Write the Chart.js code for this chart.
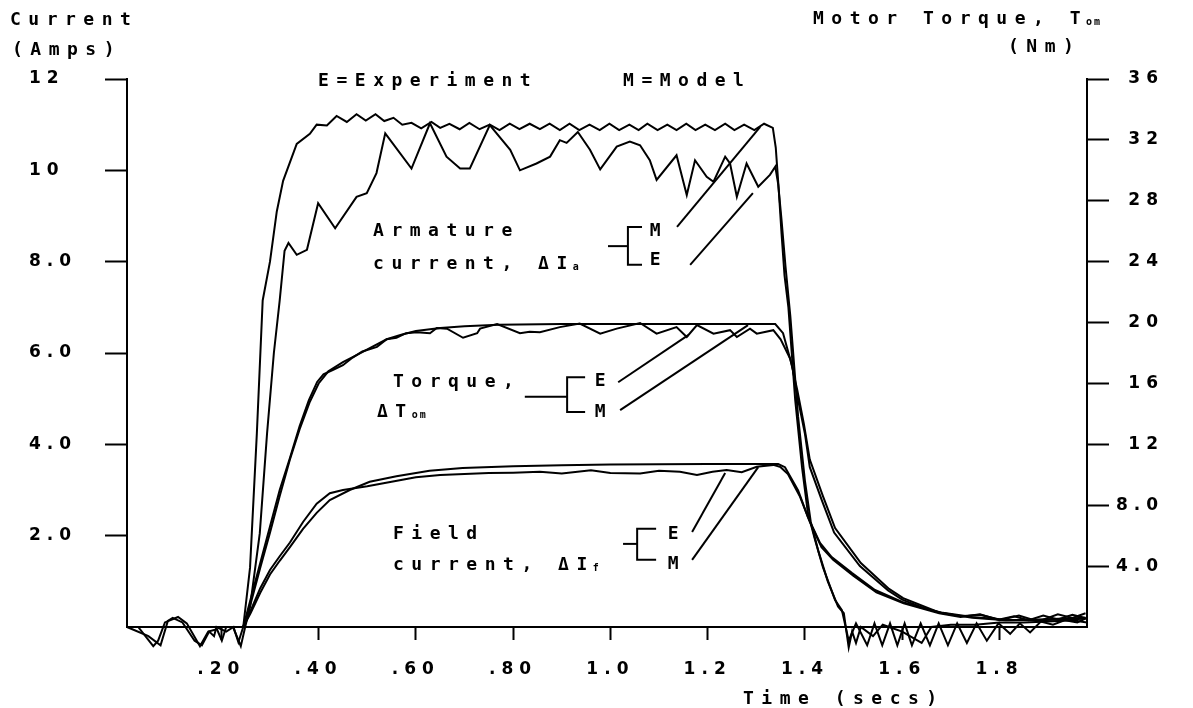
<!DOCTYPE html>
<html><head><meta charset="utf-8">
<script src="https://cdn.jsdelivr.net/npm/chart.js@4.4.1/dist/chart.umd.min.js"></script>
<style>html,body{margin:0;padding:0;background:#fff;}canvas{display:block;}</style>
</head><body>
<canvas id="c" width="1193" height="708"></canvas>
<script>
// ---------------- data (time in s, current in A, torque in Nm) ----------------
const armModelT = [0.006,0.245,0.259,0.273,0.285,0.300,0.314,0.327,0.355,0.382,0.396,0.417,
 0.437,0.458,0.478,0.497,0.517,0.535,0.554,0.572,0.591,0.611,0.632,0.650,0.669,0.690,0.710,0.731,0.752,0.772,0.793,0.813,
 0.834,0.855,0.875,0.896,0.916,0.936,0.957,0.978,0.998,1.018,1.039,1.058,1.076,1.097,1.117,1.136,1.156,1.175,1.195,1.215,
 1.236,1.255,1.275,1.296,1.316,1.334,
 1.340,1.346,1.352,1.358,1.366,1.380,1.394,1.406,1.421,1.437,1.462,1.476,
 1.490,1.505,1.528,1.543,1.559,1.575,1.590,1.605,1.620,1.638,1.657,1.675,1.694,1.713,1.733,1.753,1.774,1.798,1.822,1.842,
 1.863,1.885,1.910,1.935,1.960,1.980];
const armModelA = [0,0,1.3,4.24,7.15,8.0,9.1,9.77,10.58,10.8,11.0,10.98,
 11.19,11.06,11.23,11.09,11.23,11.08,11.15,11.0,11.04,10.92,11.06,10.93,11.02,10.9,11.04,10.9,11.0,10.88,11.02,10.9,
 11.02,10.9,11.02,10.88,11.02,10.88,11.0,10.88,11.02,10.88,11.0,10.88,11.02,10.88,11.0,10.88,11.02,10.88,11.0,10.88,
 11.02,10.88,11.0,10.88,11.02,10.93,
 10.5,9.6,8.6,7.7,7.0,4.97,3.5,2.5,1.9,1.31,0.59,0.37,
 -0.3,0.08,-0.4,0.08,-0.4,0.08,-0.4,0.08,-0.4,0.08,-0.4,0.08,-0.4,0.08,-0.35,0.08,-0.3,0.08,-0.15,0.08,
 -0.12,0.12,0.05,0.15,0.1,0.2];

const armExpT = [0.006,0.029,0.060,0.070,0.084,0.111,0.129,0.156,0.173,0.191,0.201,0.210,0.224,0.240,0.249,
 0.259,0.279,0.294,0.308,0.320,0.330,0.338,0.355,0.376,0.399,0.434,0.478,0.499,0.519,0.537,0.591,0.629,0.663,0.691,0.711,
 0.752,0.794,0.814,0.848,0.876,0.896,0.910,0.933,0.958,0.979,1.013,1.040,1.061,1.081,1.095,1.136,1.157,1.174,1.198,1.212,
 1.236,1.246,1.260,1.280,1.304,1.328,1.339,1.345,1.352,1.360,1.370,1.386,1.400,1.412,1.428,1.447,1.468,1.480,
 1.490,1.497,1.505,1.515,1.540,1.560,1.600,1.640,1.660,1.700,1.750,1.800,1.850,1.900,1.950,1.980];
const armExpA = [0,0,-0.42,-0.3,0.1,0.22,0.08,-0.42,-0.1,-0.05,-0.3,0.0,0.0,-0.42,0.0,
 0.44,2.05,4.24,6.0,7.15,8.24,8.41,8.15,8.26,9.28,8.73,9.42,9.5,9.94,10.81,10.04,11.03,10.3,10.04,10.04,
 10.99,10.45,10.0,10.15,10.3,10.66,10.6,10.84,10.45,10.02,10.52,10.63,10.55,10.22,9.79,10.33,9.46,10.22,9.86,9.75,
 10.3,10.15,9.42,10.15,9.64,9.9,10.08,9.7,8.9,7.9,6.8,4.6,3.2,2.3,1.65,1.0,0.45,0.3,
 -0.45,-0.1,-0.35,0.0,-0.2,0.05,-0.1,-0.35,0.0,0.05,0.05,0.1,0.1,0.12,0.15,0.1];

const torqueModelT = [0.006,0.245,0.260,0.280,0.300,0.320,0.341,0.361,0.382,0.400,0.420,0.450,0.480,0.510,0.540,
 0.570,0.600,0.650,0.700,0.770,0.900,1.100,1.339,1.355,1.374,1.386,1.400,1.410,1.435,1.460,
 1.513,1.571,1.600,1.640,1.676,1.744,1.813,1.880,1.977];
const torqueModelNm = [0,0,1.5,3.9,6.2,8.6,11.0,13.0,14.8,16.0,16.8,17.4,17.9,18.4,18.9,
 19.2,19.45,19.65,19.75,19.85,19.9,19.9,19.9,19.3,17.1,14.9,12.7,10.5,8.3,6.2,
 4.0,2.4,1.8,1.3,0.95,0.6,0.45,0.5,0.6];

const torqueExpT = [0.006,0.050,0.075,0.090,0.100,0.120,0.145,0.160,0.175,0.185,0.190,0.210,0.225,0.235,0.245,
 0.260,0.280,0.300,0.320,0.341,0.361,0.380,0.397,0.410,0.430,0.450,0.470,0.490,0.520,0.540,
 0.560,0.580,0.602,0.629,0.643,0.664,0.697,0.726,0.732,0.767,0.814,0.834,0.855,0.896,0.937,
 0.979,1.013,1.061,1.095,1.136,1.157,1.178,1.212,1.246,1.260,1.287,1.301,1.335,1.350,1.370,
 1.384,1.398,1.410,1.437,1.462,1.515,1.573,1.602,1.676,1.720,1.760,1.800,1.830,1.860,1.890,1.920,1.950,1.977];
const torqueExpNm = [0,-0.6,-1.2,0.4,0.6,0.3,-0.9,-1.2,-0.3,-0.6,0.0,-0.3,0.0,-1.0,0.0,
 1.8,4.2,6.6,9.0,11.1,13.2,14.9,16.1,16.6,16.9,17.2,17.7,18.1,18.4,18.9,
 19.0,19.3,19.37,19.3,19.64,19.6,19.0,19.3,19.6,19.9,19.3,19.4,19.37,19.7,19.93,
 19.27,19.6,19.97,19.27,19.7,19.05,19.84,19.27,19.5,19.05,19.6,19.27,19.5,18.9,17.6,
 15.6,13.3,11.0,8.6,6.5,4.2,2.5,1.9,0.95,0.7,0.8,0.5,0.7,0.45,0.75,0.5,0.8,0.6];

const fieldModelT = [0.006,0.245,0.260,0.280,0.300,0.320,0.341,0.368,0.396,0.423,0.464,0.505,0.560,0.628,0.696,
 0.800,0.900,1.000,1.200,1.345,1.359,1.386,1.406,1.431,1.455,1.497,1.544,1.600,1.640,1.680,1.744,1.813,1.880,1.977];
const fieldModelA = [0,0,0.3,0.75,1.15,1.45,1.75,2.15,2.5,2.78,3.0,3.18,3.3,3.42,3.48,
 3.52,3.54,3.56,3.57,3.57,3.5,2.99,2.41,1.84,1.53,1.18,0.81,0.55,0.42,0.32,0.22,0.16,0.15,0.18];

const fieldExpT = [0.006,0.245,0.260,0.280,0.300,0.320,0.341,0.368,0.396,0.423,0.450,0.500,0.550,0.600,0.650,
 0.700,0.750,0.800,0.855,0.900,0.960,1.000,1.061,1.100,1.143,1.178,1.210,1.239,1.270,1.301,
 1.335,1.350,1.365,1.390,1.410,1.434,1.458,1.500,1.547,1.603,1.676,1.720,1.760,1.800,1.840,1.880,1.920,1.950,1.977];
const fieldExpA = [0,0,0.35,0.85,1.25,1.55,1.85,2.3,2.7,2.93,3.0,3.08,3.18,3.28,3.33,
 3.35,3.37,3.38,3.40,3.36,3.43,3.37,3.36,3.42,3.40,3.33,3.40,3.44,3.39,3.51,
 3.55,3.5,3.35,2.85,2.3,1.75,1.47,1.12,0.76,0.52,0.3,0.22,0.28,0.15,0.25,0.12,0.28,0.2,0.3];

const xTickValues = [0.2,0.4,0.6,0.8,1.0,1.2,1.4,1.6,1.8];
const xTickLabels = ['.20','.40','.60','.80','1.0','1.2','1.4','1.6','1.8'];
const yTickValues = [2,4,6,8,10,12];
const yTickLabels = ['2.0','4.0','6.0','8.0','10','12'];
const y2TickValues = [4,8,12,16,20,24,28,32,36];
const y2TickLabels = ['4.0','8.0','12','16','20','24','28','32','36'];

// ---------------- styles ----------------
const FAMILY = '"DejaVu Sans Mono", "Liberation Mono", monospace';
const TICK_FAMILY = '"DejaVu Sans", "Liberation Sans", sans-serif';
const MAIN_FONT = 'bold 18px ' + FAMILY;
const SUB_FONT = 'bold 10px ' + FAMILY;
const SPACING = '7.5px';
const TICK_SPACING = '6px';
const INK = '#000';

const pts = (t, v) => t.map((x, i) => ({x: x, y: v[i]}));
const line = (t, v, axis) => ({data: pts(t, v), yAxisID: axis, borderColor: INK, borderWidth: 2,
  pointRadius: 0, tension: 0, fill: false, clip: false});

// annotation layout (data coordinates: t in s, a in A on the left axis)
const noteTexts = [
  {text: 'E=Experiment', t: 0.399, a: 12.0},
  {text: 'M=Model', t: 1.026, a: 12.0},
  {text: 'Armature', t: 0.512, a: 8.71},
  {text: 'current, \u0394I', sub: 'a', t: 0.512, a: 7.99},
  {text: 'M', t: 1.081, a: 8.71},
  {text: 'E', t: 1.081, a: 8.06},
  {text: 'Torque,', t: 0.553, a: 5.39},
  {text: '\u0394T', sub: 'om', t: 0.520, a: 4.75},
  {text: 'E', t: 0.968, a: 5.41},
  {text: 'M', t: 0.968, a: 4.75},
  {text: 'Field', t: 0.553, a: 2.08},
  {text: 'current, \u0394I', sub: 'f', t: 0.553, a: 1.40},
  {text: 'E', t: 1.118, a: 2.08},
  {text: 'M', t: 1.118, a: 1.42}
];
const notePaths = [
  [[0.995,8.34],[1.036,8.34]],
  [[1.065,8.76],[1.036,8.76],[1.036,7.93],[1.065,7.93]],
  [[1.137,8.76],[1.308,10.95]],
  [[1.164,7.93],[1.293,9.50]],
  [[0.824,5.04],[0.911,5.04]],
  [[0.948,5.47],[0.911,5.47],[0.911,4.71],[0.948,4.71]],
  [[1.016,5.36],[1.160,6.39]],
  [[1.020,4.75],[1.283,6.61]],
  [[1.026,1.82],[1.055,1.82]],
  [[1.094,2.15],[1.055,2.15],[1.055,1.47],[1.094,1.47]],
  [[1.168,2.08],[1.236,3.37]],
  [[1.168,1.47],[1.304,3.50]]
];
// titles outside the plot (canvas pixels)
const titleTexts = [
  {text: 'Current', x: 10, y: 18},
  {text: '(Amps)', x: 12, y: 48},
  {text: 'Motor Torque, T', sub: 'om', x: 813, y: 17},
  {text: '(Nm)', x: 1008, y: 45},
  {text: 'Time (secs)', x: 743, y: 697}
];

function drawLabel(ctx, s, sub, x, y) {
  ctx.font = MAIN_FONT; ctx.letterSpacing = SPACING;
  ctx.textAlign = 'left'; ctx.textBaseline = 'alphabetic'; ctx.fillStyle = INK;
  const base = y + 6.5;
  ctx.fillText(s, x, base);
  if (sub) {
    const w = ctx.measureText(s).width;
    ctx.font = SUB_FONT; ctx.letterSpacing = '2px';
    ctx.fillText(sub, x + w - 2, base + 1);
    ctx.font = MAIN_FONT; ctx.letterSpacing = SPACING;
  }
}

const spacingPlugin = {
  id: 'spacing',
  beforeLayout(chart) { chart.ctx.letterSpacing = TICK_SPACING; },
  beforeDraw(chart) { chart.ctx.letterSpacing = TICK_SPACING; }
};

const notesPlugin = {
  id: 'notes',
  afterDraw(chart) {
    const ctx = chart.ctx, xs = chart.scales.x, ys = chart.scales.y;
    ctx.save();
    ctx.strokeStyle = INK; ctx.lineWidth = 2; ctx.lineJoin = 'miter'; ctx.lineCap = 'butt';
    notePaths.forEach(p => {
      ctx.beginPath();
      p.forEach((q, i) => {
        const px = xs.getPixelForValue(q[0]), py = ys.getPixelForValue(q[1]);
        if (i === 0) ctx.moveTo(px, py); else ctx.lineTo(px, py);
      });
      ctx.stroke();
    });
    noteTexts.forEach(n => drawLabel(ctx, n.text, n.sub, xs.getPixelForValue(n.t), ys.getPixelForValue(n.a)));
    titleTexts.forEach(n => drawLabel(ctx, n.text, n.sub, n.x, n.y));
    ctx.restore();
  }
};

const tickFont = {family: TICK_FAMILY, size: 17, weight: 'bold'};
const gridCfg = (len) => ({drawOnChartArea: false, drawTicks: true, tickLength: len, tickWidth: 2, tickColor: INK});
const borderCfg = {display: true, color: INK, width: 2};

new Chart(document.getElementById('c'), {
  type: 'line',
  data: {
    datasets: [
      line(armModelT, armModelA, 'y'),
      line(armExpT, armExpA, 'y'),
      line(torqueModelT, torqueModelNm, 'y2'),
      line(torqueExpT, torqueExpNm, 'y2'),
      line(fieldModelT, fieldModelA, 'y'),
      line(fieldExpT, fieldExpA, 'y')
    ]
  },
  options: {
    responsive: false, animation: false, devicePixelRatio: 1,
    layout: {padding: {left: 29, right: 29, top: 79, bottom: 21}},
    plugins: {legend: {display: false}, tooltip: {enabled: false}, title: {display: false}},
    scales: {
      x: {
        type: 'linear', position: 'bottom', min: 0.006, max: 1.98,
        afterBuildTicks: s => { s.ticks = xTickValues.map(v => ({value: v})); },
        afterFit: s => { s.height = 60; },
        ticks: {autoSkip: false, maxRotation: 0, color: INK, font: tickFont, padding: 19,
          callback: v => xTickLabels[xTickValues.indexOf(v)]},
        grid: gridCfg(13), border: borderCfg
      },
      y: {
        type: 'linear', position: 'left', min: 0, max: 12,
        afterBuildTicks: s => { s.ticks = yTickValues.map(v => ({value: v})); },
        afterFit: s => { s.width = 98; },
        ticks: {autoSkip: false, color: INK, font: tickFont, crossAlign: 'far', padding: 10,
          callback: v => yTickLabels[yTickValues.indexOf(v)]},
        grid: gridCfg(22), border: borderCfg
      },
      y2: {
        type: 'linear', position: 'right', min: 0, max: 36,
        afterBuildTicks: s => { s.ticks = y2TickValues.map(v => ({value: v})); },
        afterFit: s => { s.width = 77; },
        ticks: {autoSkip: false, color: INK, font: tickFont, crossAlign: 'far', padding: 10,
          callback: v => y2TickLabels[y2TickValues.indexOf(v)]},
        grid: gridCfg(22), border: borderCfg
      }
    }
  },
  plugins: [spacingPlugin, notesPlugin]
});
</script>
</body></html>
